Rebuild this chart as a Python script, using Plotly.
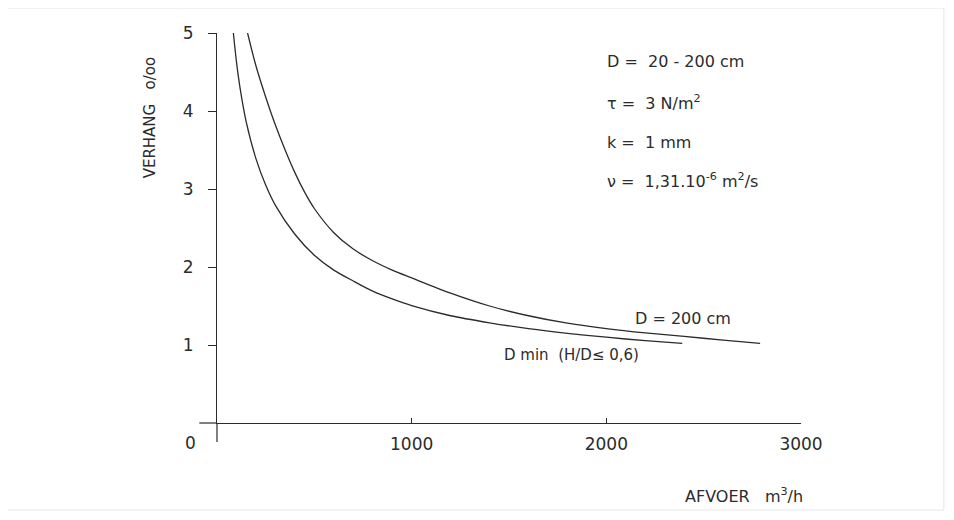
import plotly.graph_objects as go

# Data
dmin_q = [84, 100, 120, 150, 200, 250, 300, 400, 500, 600, 700, 800, 900, 1000, 1200, 1400, 1600, 1800, 2000, 2200, 2390]
dmin_s = [5.0, 4.63, 4.27, 3.86, 3.39, 3.05, 2.79, 2.42, 2.15, 1.96, 1.82, 1.69, 1.59, 1.505, 1.375, 1.285, 1.21, 1.15, 1.10, 1.055, 1.02]

d200_q = [157, 200, 250, 300, 350, 400, 450, 500, 600, 700, 800, 900, 1000, 1200, 1400, 1600, 1800, 2000, 2200, 2400, 2600, 2790]
d200_s = [5.0, 4.58, 4.18, 3.82, 3.50, 3.21, 2.96, 2.75, 2.44, 2.23, 2.08, 1.96, 1.86, 1.665, 1.50, 1.375, 1.28, 1.21, 1.155, 1.11, 1.063, 1.02]

x_ticks = [1000, 2000, 3000]
y_ticks = [1, 2, 3, 4, 5]

params = ["D =  20 - 200 cm",
          "τ =  3 N/m<sup>2</sup>",
          "k =  1 mm",
          "ν =  1,31.10<sup>-6</sup> m<sup>2</sup>/s"]

INK = "#2b2b2b"
FONT = "DejaVu Sans"

# page-pixel geometry of the plot area (page has an 8px body offset)
L, R, T, B = 216.7, 801.0, 33.0, 423.0
W, H = R - L, B - T


def px(xp):
    return (xp - L) / W


def py(yp):
    return (B - yp) / H


fig = go.Figure()
for q, s in ((dmin_q, dmin_s), (d200_q, d200_s)):
    fig.add_trace(go.Scatter(x=q, y=s, mode="lines",
                             line=dict(color=INK, width=1.3, shape="spline", smoothing=0.8),
                             hoverinfo="skip", showlegend=False))

fig.update_layout(
    width=954, height=520,
    margin=dict(l=L - 8, r=954 - (R - 8), t=T - 8, b=520 - (B - 8)),
    paper_bgcolor="white", plot_bgcolor="white",
    font=dict(family=FONT, color=INK, size=16),
    xaxis=dict(range=[0, 3000], showgrid=False, zeroline=False, showline=True, linecolor=INK, linewidth=1.2,
               ticks="inside", ticklen=5, tickcolor=INK, tickwidth=1.2, tickvals=x_ticks,
               ticktext=[str(v) for v in x_ticks], tickfont=dict(size=17), ticklabelstandoff=5),
    yaxis=dict(range=[0, 5], showgrid=False, zeroline=False, showline=True, linecolor=INK, linewidth=1.2,
               ticks="outside", ticklen=8, tickcolor=INK, tickwidth=1.2, tickvals=y_ticks,
               ticktext=[str(v) for v in y_ticks], tickfont=dict(size=17), ticklabelstandoff=11),
)

# axis line extensions beyond the origin
fig.add_shape(type="line", xref="paper", yref="paper", x0=px(199), x1=0, y0=0, y1=0,
              line=dict(color=INK, width=1.2))
fig.add_shape(type="line", xref="paper", yref="paper", x0=0, x1=0, y0=py(442), y1=0,
              line=dict(color=INK, width=1.2))
# faint scan frame
fig.add_shape(type="rect", xref="paper", yref="paper", x0=px(6), x1=px(944),
              y0=py(510), y1=py(8), line=dict(color="#e6e6e6", width=1))

ann = []
ann.append(dict(x=px(190), y=py(443), xref="paper", yref="paper", text="0", showarrow=False,
                font=dict(size=17), xanchor="center", yanchor="middle"))
for t, yp in zip(params, [62, 102, 142, 180]):
    ann.append(dict(x=px(605), y=py(yp), xref="paper", yref="paper", text=t, showarrow=False,
                    xanchor="left", yanchor="middle", font=dict(size=16)))
ann.append(dict(x=px(633), y=py(318), xref="paper", yref="paper", text="D = 200 cm", showarrow=False,
                xanchor="left", yanchor="middle", font=dict(size=16)))
ann.append(dict(x=px(502), y=py(355), xref="paper", yref="paper", text="D min  (H/D≤ 0,6)", showarrow=False,
                xanchor="left", yanchor="middle", font=dict(size=15)))
ann.append(dict(x=px(683), y=py(495), xref="paper", yref="paper", text="AFVOER   m<sup>3</sup>/h",
                showarrow=False, xanchor="left", yanchor="middle", font=dict(size=16)))
ann.append(dict(x=px(150), y=py(118), xref="paper", yref="paper", text="VERHANG   o/oo", showarrow=False,
                textangle=-90, xanchor="center", yanchor="middle", font=dict(size=15)))
fig.update_layout(annotations=ann)

fig.write_html("out.html")
